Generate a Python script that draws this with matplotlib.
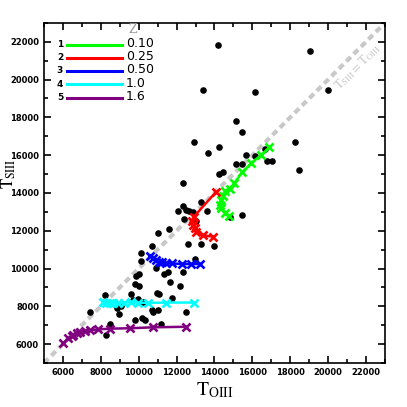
import matplotlib
matplotlib.use('Agg')
import matplotlib.pyplot as plt
from matplotlib.ticker import MultipleLocator

plt.rcParams['mathtext.fontset'] = 'stix'

# observed objects (T_OIII, T_SIII)
obs_toiii = [14160, 13370, 19050, 20000, 16160, 15160, 15470, 12900, 18260, 14260,
             16680, 13680, 15680, 16160, 15160, 15470, 16790, 17050, 18470, 14260,
             14470, 12320, 12320, 13290, 13580, 12050, 12500, 12680, 12870, 12370,
             13030, 14840, 15470, 11580, 11000, 12580, 13290, 13970, 10680, 10100,
             10100, 12970, 10900, 12320, 11550, 11320, 10000, 9840, 11630, 9790,
             10000, 12160, 10950, 11050, 9600, 8210, 9950, 9710, 10210, 11760,
             8840, 9080, 8950, 10710, 10760, 11000, 12500, 7420, 9790, 10180,
             10320, 11200, 8500, 8300]
obs_tsiii = [21830, 19440, 21510, 19440, 19340, 17800, 17220, 16690, 16690, 16430,
             16320, 16110, 16000, 15950, 15530, 15530, 15710, 15710, 15210, 15000,
             15110, 14520, 13310, 13520, 13040, 13020, 13100, 13020, 12990, 12620,
             12510, 12730, 12830, 12090, 11880, 11300, 11300, 11190, 11190, 10820,
             10400, 10500, 10030, 9790, 9790, 9710, 9710, 9600, 9290, 9180,
             9070, 9070, 8730, 8650, 8650, 8600, 8410, 8360, 8250, 8420,
             7910, 8020, 7620, 7830, 7700, 7780, 7700, 7700, 7300, 7380,
             7280, 7090, 7090, 6480]

# model sequences for each redshift
z_labels = ['0.10', '0.25', '0.50', '1.0', '1.6']
z_colors = ['#00ff00', '#ff0000', '#0000ff', '#00ffff', '#800080']

m1_x = [16900, 16460, 15950, 15470, 15050, 14840, 14580, 14440, 14350, 14300, 14350, 14530, 14760]
m1_y = [16410, 16000, 15580, 15110, 14520, 14230, 14100, 13860, 13620, 13360, 13180, 12960, 12800]
m2_x = [14080, 12900, 12820, 12870, 12950, 13050, 13400, 13900]
m2_y = [14050, 12730, 12510, 12300, 12120, 11930, 11750, 11690]
m3_x = [10580, 10740, 10900, 11050, 11210, 11420, 11740, 12260, 12740, 13210]
m3_y = [10640, 10560, 10450, 10370, 10320, 10290, 10270, 10240, 10240, 10240]
m4_x = [8120, 8300, 8470, 8650, 8900, 9250, 9600, 9950, 10480, 11450, 12900]
m4_y = [8230, 8180, 8150, 8150, 8180, 8200, 8220, 8200, 8180, 8200, 8200]
m5_x = [6020, 6280, 6460, 6540, 6720, 6900, 7160, 7420, 7860, 8470, 9530, 10740, 12510]
m5_y = [6040, 6310, 6430, 6500, 6590, 6660, 6710, 6730, 6780, 6820, 6840, 6890, 6920]

lim = [5000, 23000]

fig = plt.figure(figsize=(4.07, 4.07), dpi=100)
ax = fig.add_axes([0.108, 0.108, 0.838, 0.836])

# one-to-one line
ax.plot(lim, lim, color='#c8c8c8', lw=3, linestyle=(0, (1.5, 1)), zorder=1)
ax.text(21550, 20650, r'$\mathrm{T}_{\rm SIII}=\mathrm{T}_{\rm OIII}$', color='#c8c8c8',
        fontsize=9, rotation=45, ha='center', va='center')

ax.scatter(obs_toiii, obs_tsiii, s=14, color='black', zorder=3)

models = [(m1_x, m1_y), (m2_x, m2_y), (m3_x, m3_y), (m4_x, m4_y), (m5_x, m5_y)]
for (mx, my), c in zip(models, z_colors):
    ax.plot(mx, my, color=c, lw=1.8, marker='x', ms=5.5, mew=1.9, zorder=4)

# hand-made legend
rows = [0.935, 0.897, 0.859, 0.819, 0.779]
ax.text(0.261, 0.979, 'Z', transform=ax.transAxes, color='#999999', fontsize=9,
        family='serif', ha='center', va='center')
for i, (yy, lab, c) in enumerate(zip(rows, z_labels, z_colors)):
    ax.text(0.047, yy, str(i + 1), transform=ax.transAxes, fontsize=6.5,
            fontweight='bold', ha='center', va='center')
    ax.plot([0.067, 0.229], [yy, yy], transform=ax.transAxes, color=c, lw=2.2)
    ax.text(0.240, yy + 0.004, lab, transform=ax.transAxes, fontsize=9,
            ha='left', va='center')

ax.set_xlim(lim)
ax.set_ylim(lim)
ax.xaxis.set_major_locator(MultipleLocator(2000))
ax.yaxis.set_major_locator(MultipleLocator(2000))
ax.xaxis.set_minor_locator(MultipleLocator(1000))
ax.yaxis.set_minor_locator(MultipleLocator(1000))
ax.tick_params(which='both', direction='in', top=True, right=True, width=1.2)
ax.tick_params(which='major', length=5, labelsize=6)
ax.tick_params(which='minor', length=3)
for lbl in ax.get_xticklabels() + ax.get_yticklabels():
    lbl.set_fontweight('bold')
for sp in ax.spines.values():
    sp.set_linewidth(1.2)

ax.set_xlabel(r'$\mathrm{T}_{\rm OIII}$', fontsize=14)
ax.set_ylabel(r'$\mathrm{T}_{\rm SIII}$', fontsize=12)
ax.xaxis.set_label_coords(0.5, -0.05)
ax.yaxis.set_label_coords(-0.075, 0.556)

plt.savefig('out.png', dpi=100)
